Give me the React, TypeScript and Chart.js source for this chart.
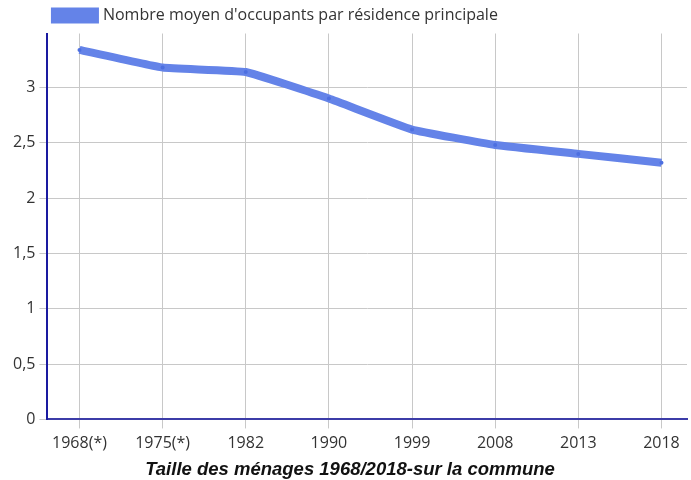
import React, { useEffect, useRef } from "react";
import { Chart, registerables } from "chart.js";

Chart.register(...registerables);

const categories = ["1968(*)", "1975(*)", "1982", "1990", "1999", "2008", "2013", "2018"];
const occupants = [3.34, 3.18, 3.14, 2.9, 2.62, 2.48, 2.4, 2.32];
const yTicks = [0, 0.5, 1, 1.5, 2, 2.5, 3];
const seriesLabel = "Nombre moyen d'occupants par résidence principale";
const titleText = "Taille des ménages 1968/2018-sur la commune";

export default function App() {
  const ref = useRef<HTMLCanvasElement | null>(null);

  useEffect(() => {
    document.body.style.margin = "0";
    const canvas = ref.current;
    if (!canvas) return;
    const chart = new Chart(canvas, {
      type: "line",
      data: {
        datasets: [
          {
            label: seriesLabel,
            data: occupants.map((v, i) => ({ x: i, y: v })),
            borderColor: "#6483e8",
            backgroundColor: "#6483e8",
            borderWidth: 8,
            pointRadius: 2,
            pointBackgroundColor: "#4d6fe0",
            pointBorderWidth: 0,
            tension: 0.1,
            fill: false,
          },
        ],
      },
      options: {
        animation: false,
        responsive: false,
        maintainAspectRatio: false,
        layout: { padding: { left: 9, right: 0, top: 0, bottom: 0 } },
        plugins: {
          legend: {
            position: "top",
            align: "start",
            fullSize: false,
            labels: {
              boxWidth: 40,
              boxHeight: 8,
              color: "#333",
              font: { family: "'Open Sans'", size: 16 },
              padding: 7.5,
            },
          },
          title: {
            display: true,
            position: "bottom",
            text: titleText,
            color: "#111",
            font: { family: "'Liberation Sans', Arial", size: 18.5, style: "italic", weight: "bold", lineHeight: 1.1 },
            padding: { top: 2, bottom: 0 },
          },
          tooltip: { enabled: false },
        },
        scales: {
          x: {
            type: "linear",
            min: -0.3855,
            max: 7.307,
            afterBuildTicks: (scale: any) => {
              scale.ticks = categories.map((_, i) => ({ value: i }));
            },
            ticks: {
              callback: (v: any) => categories[Math.round(Number(v))] ?? "",
              color: "#333",
              font: { family: "'Open Sans'", size: 16 },
              maxRotation: 0,
              autoSkip: false,
              padding: 5,
            },
            grid: { color: "#c8c8c8", tickLength: 9, lineWidth: 1 },
            border: { color: "#3c3ca8", width: 2 },
          },
          y: {
            min: 0,
            max: 3.488,
            afterBuildTicks: (scale: any) => {
              scale.ticks = yTicks.map((v) => ({ value: v }));
            },
            ticks: {
              callback: (v: any) => String(v).replace(".", ","),
              color: "#333",
              font: { family: "'Open Sans'", size: 16 },
              padding: 4,
            },
            grid: { color: "#c8c8c8", tickLength: 8, lineWidth: 1 },
            border: { color: "#1a1aa0", width: 2 },
          },
        },
      },
    });
    return () => chart.destroy();
  }, []);

  return (
    <div style={{ width: 691, height: 480 }}>
      <canvas ref={ref} width={691} height={480} style={{ display: "block" }} />
    </div>
  );
}
